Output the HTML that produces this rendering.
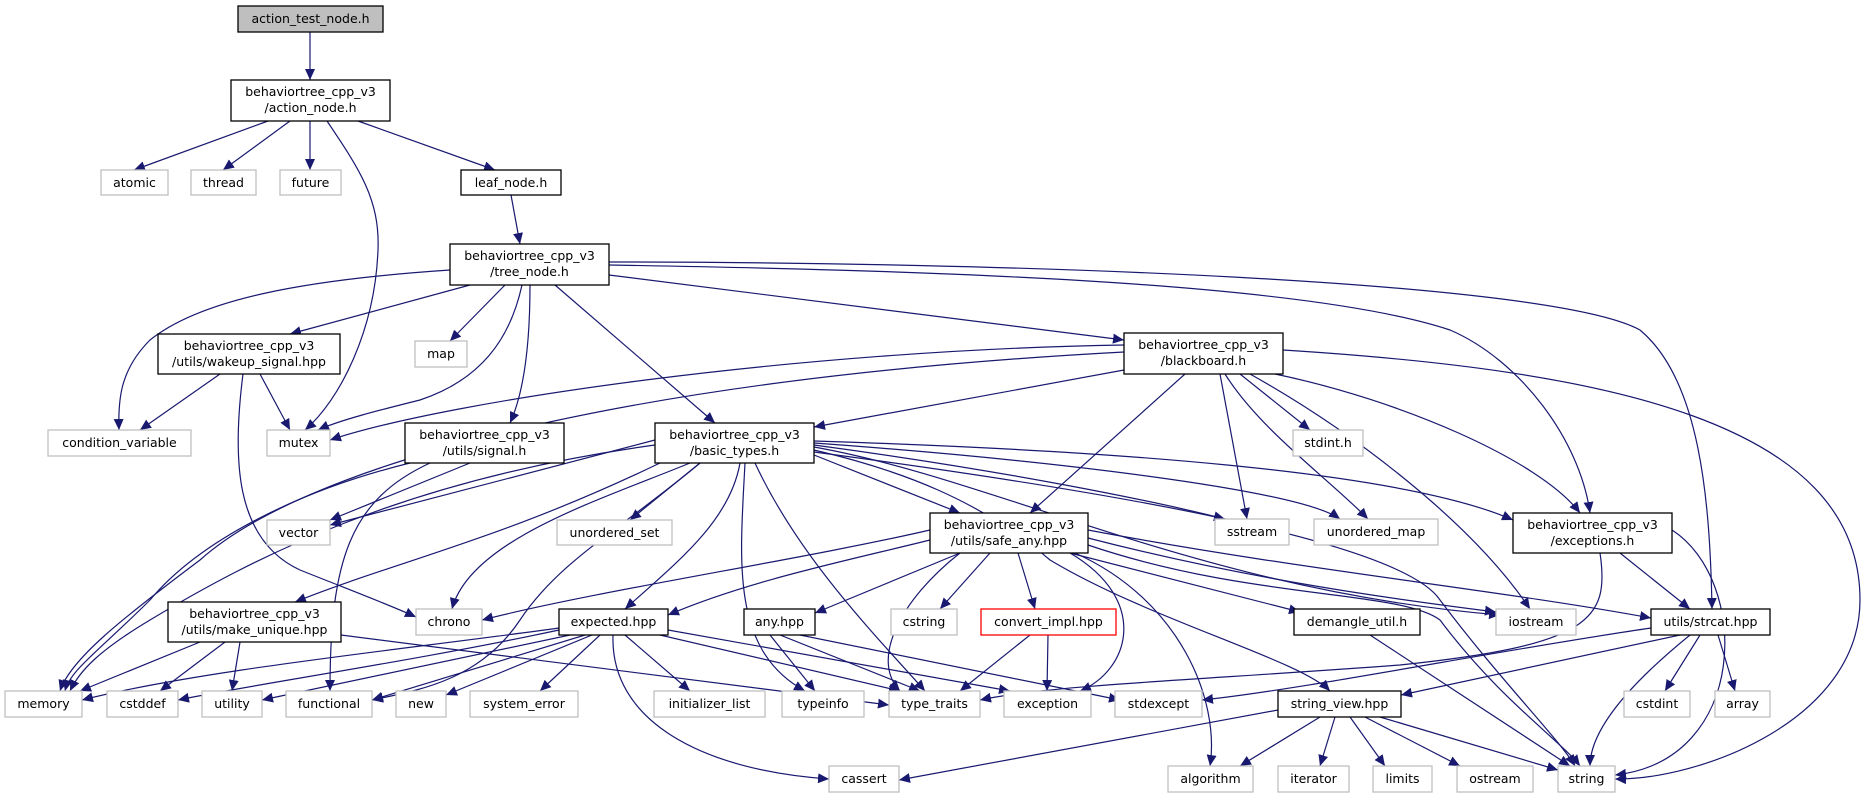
<!DOCTYPE html>
<html><head><meta charset="utf-8"><style>
html,body{margin:0;padding:0;background:#fff;}
svg{display:block;}
text{font-family:"DejaVu Sans","Liberation Sans",sans-serif;font-size:12.5px;fill:#000;text-anchor:middle;}
.e{fill:none;stroke:#191970;stroke-width:1.2;marker-end:url(#a);}
.n{fill:#fff;stroke:#000;stroke-width:1.3;}
.g{fill:#fff;stroke:#bfbfbf;stroke-width:1.3;}
</style></head><body>
<svg width="1864" height="797" viewBox="0 0 1864 797" xmlns="http://www.w3.org/2000/svg">
<defs><marker id="a" markerUnits="userSpaceOnUse" markerWidth="12" markerHeight="10" refX="11" refY="5" orient="auto"><path d="M0,0 L11,5 L0,10 z" fill="#191970"/></marker></defs>
<g>
<path class="e" d="M310,32 L310,80"/>
<path class="e" d="M268,121 L134,170"/>
<path class="e" d="M290,121 L223,170"/>
<path class="e" d="M310,121 L310,170"/>
<path class="e" d="M327,121 C360,170 380,200 378,250 C375,330 340,400 305,430"/>
<path class="e" d="M358,121 L495,170"/>
<path class="e" d="M511,195 L520,244"/>
<path class="e" d="M450,270 C300,280 200,300 150,340 C120,370 118,400 119,430"/>
<path class="e" d="M470,285 L290,334"/>
<path class="e" d="M505,285 L450,341"/>
<path class="e" d="M522,285 C510,340 480,380 420,400 C380,410 340,420 318,430"/>
<path class="e" d="M530,285 C530,340 525,390 510,423"/>
<path class="e" d="M555,285 L715,423"/>
<path class="e" d="M609,275 L1124,340"/>
<path class="e" d="M609,265 C900,270 1300,280 1450,330 C1520,360 1580,440 1590,513"/>
<path class="e" d="M609,262 C1000,262 1550,280 1640,330 C1700,380 1710,500 1712,609"/>
<path class="e" d="M220,374 L140,430"/>
<path class="e" d="M260,374 L290,430"/>
<path class="e" d="M243,374 C232,460 235,540 300,570 C350,590 390,605 416,617"/>
<path class="e" d="M1124,345 C800,350 450,400 330,440"/>
<path class="e" d="M1124,352 C600,380 300,470 200,560 C120,620 70,660 60,691"/>
<path class="e" d="M1124,370 L814,427"/>
<path class="e" d="M1185,374 L1030,513"/>
<path class="e" d="M1220,374 L1247,519"/>
<path class="e" d="M1225,374 C1260,430 1330,480 1368,519"/>
<path class="e" d="M1240,374 L1310,430"/>
<path class="e" d="M1250,374 C1350,430 1470,520 1530,609"/>
<path class="e" d="M1275,374 C1400,400 1540,460 1580,513"/>
<path class="e" d="M1283,350 C1600,370 1860,420 1860,600 C1860,720 1700,780 1615,779"/>
<path class="e" d="M470,463 L330,520"/>
<path class="e" d="M410,463 C300,490 200,540 150,600 C100,650 70,670 65,691"/>
<path class="e" d="M430,463 C350,500 330,560 330,691"/>
<path class="e" d="M655,440 L330,525"/>
<path class="e" d="M655,445 C400,480 250,560 150,620 C100,650 80,670 70,691"/>
<path class="e" d="M690,463 C600,500 470,540 452,609"/>
<path class="e" d="M700,463 C620,530 560,560 520,620 C480,680 420,690 372,700"/>
<path class="e" d="M660,463 C500,540 400,560 295,602"/>
<path class="e" d="M700,463 L630,520"/>
<path class="e" d="M740,463 C730,520 680,560 625,609"/>
<path class="e" d="M745,463 C740,560 730,650 805,691"/>
<path class="e" d="M755,463 C800,560 880,640 925,691"/>
<path class="e" d="M814,455 L960,513"/>
<path class="e" d="M814,450 C900,470 980,500 1050,560 C1150,620 1300,660 1330,691"/>
<path class="e" d="M814,445 C1000,470 1150,500 1225,519"/>
<path class="e" d="M814,443 C1050,460 1300,490 1340,519"/>
<path class="e" d="M814,441 C1100,450 1400,470 1513,520"/>
<path class="e" d="M814,447 C1000,480 1200,590 1500,615"/>
<path class="e" d="M814,452 C1100,490 1400,540 1440,600 C1500,680 1560,740 1575,766"/>
<path class="e" d="M200,642 L80,691"/>
<path class="e" d="M225,642 L160,691"/>
<path class="e" d="M240,642 L232,691"/>
<path class="e" d="M341,635 L889,705"/>
<path class="e" d="M559,628 C400,650 200,670 82,700"/>
<path class="e" d="M559,630 C420,660 250,685 178,700"/>
<path class="e" d="M570,635 C450,660 330,685 262,700"/>
<path class="e" d="M585,635 L372,700"/>
<path class="e" d="M592,635 L446,695"/>
<path class="e" d="M600,635 L540,691"/>
<path class="e" d="M625,635 L690,691"/>
<path class="e" d="M660,635 L900,691"/>
<path class="e" d="M668,630 L1010,691"/>
<path class="e" d="M613,635 C610,720 700,770 829,779"/>
<path class="e" d="M770,635 L815,691"/>
<path class="e" d="M780,635 L920,691"/>
<path class="e" d="M800,635 L1120,700"/>
<path class="e" d="M930,530 C800,560 600,590 482,620"/>
<path class="e" d="M930,540 C850,560 750,580 668,615"/>
<path class="e" d="M960,553 L815,613"/>
<path class="e" d="M990,553 L940,609"/>
<path class="e" d="M1018,553 L1035,609"/>
<path class="e" d="M1070,553 L1300,612"/>
<path class="e" d="M1088,538 C1250,580 1400,600 1496,612"/>
<path class="e" d="M1088,530 C1300,570 1500,590 1651,618"/>
<path class="e" d="M960,553 C900,600 870,660 900,691"/>
<path class="e" d="M1070,553 C1150,600 1130,670 1080,691"/>
<path class="e" d="M1075,553 C1180,600 1220,700 1210,766"/>
<path class="e" d="M1088,545 C1250,600 1400,590 1440,620 C1500,700 1560,740 1580,766"/>
<path class="e" d="M1030,635 L960,691"/>
<path class="e" d="M1048,635 L1047,691"/>
<path class="e" d="M1370,635 L1570,766"/>
<path class="e" d="M1620,553 L1690,609"/>
<path class="e" d="M1600,553 C1610,620 1590,645 1400,665 C1200,680 1050,685 980,700"/>
<path class="e" d="M1672,530 C1750,580 1750,760 1615,775"/>
<path class="e" d="M1651,628 C1500,650 1300,690 1202,700"/>
<path class="e" d="M1680,635 L1401,695"/>
<path class="e" d="M1700,635 L1665,691"/>
<path class="e" d="M1718,635 L1735,691"/>
<path class="e" d="M1690,635 C1610,700 1590,740 1590,766"/>
<path class="e" d="M1278,710 L899,780"/>
<path class="e" d="M1320,717 L1240,766"/>
<path class="e" d="M1335,717 L1320,766"/>
<path class="e" d="M1350,717 L1385,766"/>
<path class="e" d="M1365,717 L1460,766"/>
<path class="e" d="M1380,717 L1558,770"/>
</g>
<g>
<rect x="238" y="6" width="145" height="26" fill="#bfbfbf" stroke="#000" stroke-width="1.3"/><text x="310.5" y="23">action_test_node.h</text>
<rect class="n" x="231" y="80" width="159" height="41"/><text x="310.5" y="96">behaviortree_cpp_v3</text><text x="310.5" y="112">/action_node.h</text>
<rect class="g" x="101" y="170" width="67" height="25"/><text x="134.5" y="187">atomic</text>
<rect class="g" x="191" y="170" width="65" height="25"/><text x="223.5" y="187">thread</text>
<rect class="g" x="280" y="170" width="61" height="25"/><text x="310.5" y="187">future</text>
<rect class="n" x="461" y="170" width="100" height="25"/><text x="511" y="187">leaf_node.h</text>
<rect class="n" x="450" y="244" width="159" height="41"/><text x="529.5" y="260">behaviortree_cpp_v3</text><text x="529.5" y="276">/tree_node.h</text>
<rect class="n" x="158" y="334" width="182" height="40"/><text x="249" y="350">behaviortree_cpp_v3</text><text x="249" y="366">/utils/wakeup_signal.hpp</text>
<rect class="g" x="415" y="341" width="52" height="26"/><text x="441" y="358">map</text>
<rect class="n" x="1124" y="333" width="159" height="41"/><text x="1203.5" y="349">behaviortree_cpp_v3</text><text x="1203.5" y="365">/blackboard.h</text>
<rect class="g" x="48" y="430" width="143" height="26"/><text x="119.5" y="447">condition_variable</text>
<rect class="g" x="267" y="430" width="63" height="26"/><text x="298.5" y="447">mutex</text>
<rect class="n" x="405" y="423" width="159" height="40"/><text x="484.5" y="439">behaviortree_cpp_v3</text><text x="484.5" y="455">/utils/signal.h</text>
<rect class="n" x="655" y="423" width="159" height="40"/><text x="734.5" y="439">behaviortree_cpp_v3</text><text x="734.5" y="455">/basic_types.h</text>
<rect class="g" x="1293" y="430" width="70" height="26"/><text x="1328" y="447">stdint.h</text>
<rect class="g" x="267" y="520" width="63" height="25"/><text x="298.5" y="537">vector</text>
<rect class="g" x="557" y="520" width="115" height="25"/><text x="614.5" y="537">unordered_set</text>
<rect class="n" x="930" y="513" width="158" height="40"/><text x="1009" y="529">behaviortree_cpp_v3</text><text x="1009" y="545">/utils/safe_any.hpp</text>
<rect class="g" x="1215" y="519" width="74" height="26"/><text x="1252" y="536">sstream</text>
<rect class="g" x="1314" y="519" width="124" height="26"/><text x="1376" y="536">unordered_map</text>
<rect class="n" x="1513" y="513" width="159" height="40"/><text x="1592.5" y="529">behaviortree_cpp_v3</text><text x="1592.5" y="545">/exceptions.h</text>
<rect class="n" x="168" y="602" width="173" height="40"/><text x="254.5" y="618">behaviortree_cpp_v3</text><text x="254.5" y="634">/utils/make_unique.hpp</text>
<rect class="g" x="416" y="609" width="66" height="26"/><text x="449" y="626">chrono</text>
<rect class="n" x="559" y="609" width="109" height="26"/><text x="613.5" y="626">expected.hpp</text>
<rect class="n" x="744" y="609" width="71" height="26"/><text x="779.5" y="626">any.hpp</text>
<rect class="g" x="891" y="609" width="66" height="26"/><text x="924" y="626">cstring</text>
<rect x="981" y="609" width="135" height="26" fill="#fff" stroke="#ff0000" stroke-width="1.3"/><text x="1048.5" y="626">convert_impl.hpp</text>
<rect class="n" x="1294" y="609" width="126" height="26"/><text x="1357" y="626">demangle_util.h</text>
<rect class="g" x="1496" y="609" width="80" height="26"/><text x="1536" y="626">iostream</text>
<rect class="n" x="1651" y="609" width="119" height="26"/><text x="1710.5" y="626">utils/strcat.hpp</text>
<rect class="g" x="5" y="691" width="77" height="26"/><text x="43.5" y="708">memory</text>
<rect class="g" x="107" y="691" width="71" height="26"/><text x="142.5" y="708">cstddef</text>
<rect class="g" x="202" y="691" width="60" height="26"/><text x="232" y="708">utility</text>
<rect class="g" x="286" y="691" width="86" height="26"/><text x="329" y="708">functional</text>
<rect class="g" x="396" y="691" width="50" height="26"/><text x="421" y="708">new</text>
<rect class="g" x="470" y="691" width="108" height="26"/><text x="524" y="708">system_error</text>
<rect class="g" x="654" y="691" width="111" height="26"/><text x="709.5" y="708">initializer_list</text>
<rect class="g" x="782" y="691" width="82" height="26"/><text x="823" y="708">typeinfo</text>
<rect class="g" x="889" y="691" width="91" height="26"/><text x="934.5" y="708">type_traits</text>
<rect class="g" x="1004" y="691" width="87" height="26"/><text x="1047.5" y="708">exception</text>
<rect class="g" x="1115" y="691" width="87" height="26"/><text x="1158.5" y="708">stdexcept</text>
<rect class="n" x="1278" y="691" width="123" height="26"/><text x="1339.5" y="708">string_view.hpp</text>
<rect class="g" x="1624" y="691" width="66" height="26"/><text x="1657" y="708">cstdint</text>
<rect class="g" x="1715" y="691" width="55" height="26"/><text x="1742.5" y="708">array</text>
<rect class="g" x="829" y="766" width="70" height="26"/><text x="864" y="783">cassert</text>
<rect class="g" x="1168" y="766" width="85" height="26"/><text x="1210.5" y="783">algorithm</text>
<rect class="g" x="1278" y="766" width="71" height="26"/><text x="1313.5" y="783">iterator</text>
<rect class="g" x="1373" y="766" width="59" height="26"/><text x="1402.5" y="783">limits</text>
<rect class="g" x="1457" y="766" width="76" height="26"/><text x="1495" y="783">ostream</text>
<rect class="g" x="1558" y="766" width="57" height="26"/><text x="1586.5" y="783">string</text>
</g>
</svg>
</body></html>
